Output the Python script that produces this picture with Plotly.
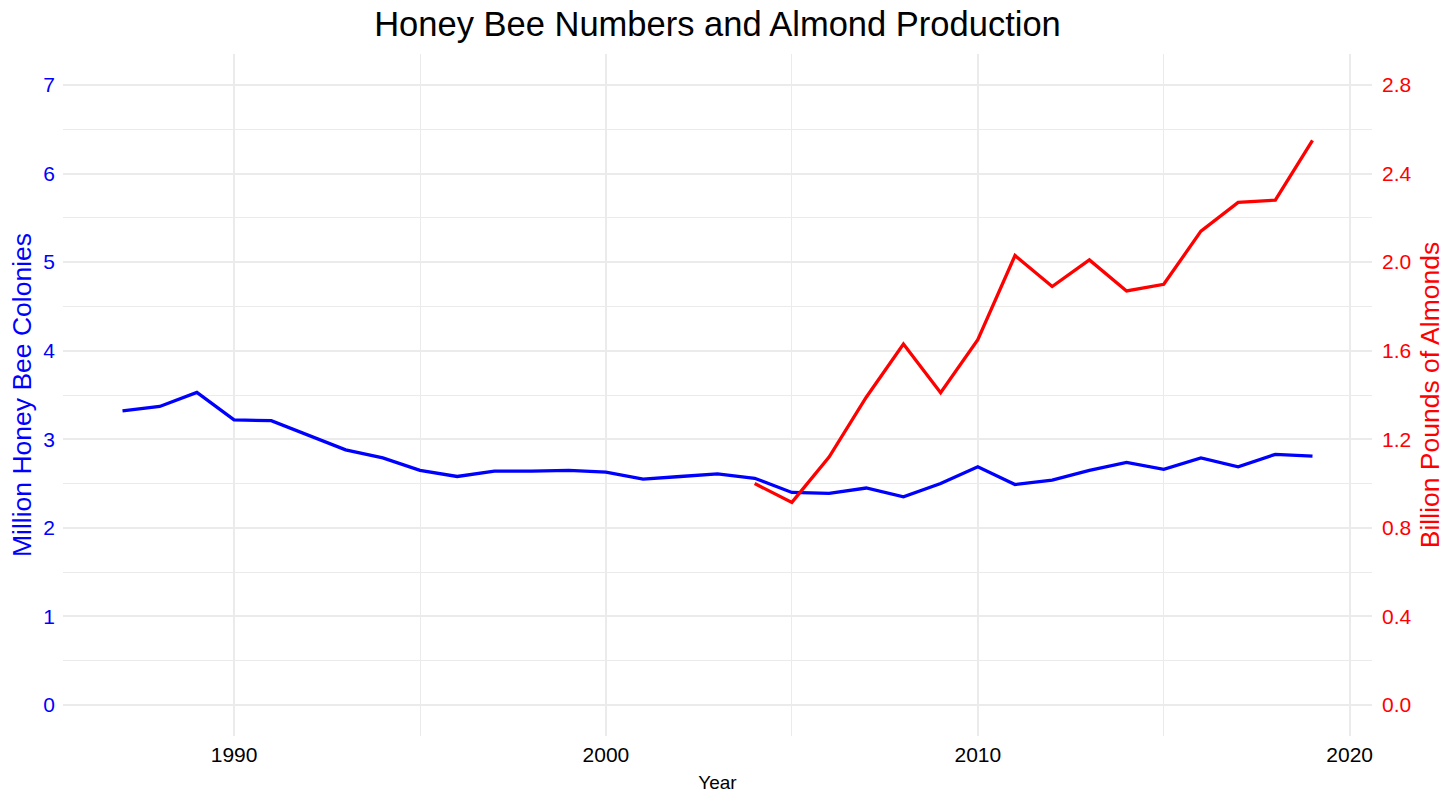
import plotly.graph_objects as go

years_bees = list(range(1987, 2020))
bee_colonies = [3.32, 3.37, 3.53, 3.22, 3.21, 3.05, 2.88, 2.79, 2.65, 2.58, 2.64,
                2.64, 2.65, 2.63, 2.55, 2.58, 2.61, 2.56, 2.40, 2.39, 2.45, 2.35,
                2.50, 2.69, 2.49, 2.54, 2.65, 2.74, 2.66, 2.79, 2.69, 2.83, 2.81]

years_almonds = list(range(2004, 2020))
almond_production = [1.00, 0.915, 1.12, 1.39, 1.63, 1.41, 1.65, 2.03, 1.89, 2.01,
                     1.87, 1.90, 2.14, 2.27, 2.28, 2.55]

left_ticks = [0, 1, 2, 3, 4, 5, 6, 7]
right_ticks = [0.0, 0.4, 0.8, 1.2, 1.6, 2.0, 2.4, 2.8]
x_ticks = [1990, 2000, 2010, 2020]

FONT = "Liberation Sans, Arial, sans-serif"
GRID = "#EBEBEB"

W, H = 1456, 803

fig = go.Figure()
fig.add_trace(go.Scatter(x=years_bees, y=bee_colonies, mode="lines",
                         line=dict(color="#0000FF", width=3.3), yaxis="y",
                         showlegend=False))
fig.add_trace(go.Scatter(x=years_almonds, y=almond_production, mode="lines",
                         line=dict(color="#FF0000", width=3.3), yaxis="y2",
                         showlegend=False))

fig.update_layout(
    width=W, height=H,
    paper_bgcolor="white", plot_bgcolor="white",
    font=dict(family=FONT),
    margin=dict(l=63, r=84, t=54, b=67),
    title=dict(text="Honey Bee Numbers and Almond Production",
               x=0.5, xref="paper", xanchor="center",
               y=1 - 24 / H, yref="container", yanchor="middle",
               font=dict(size=34.5, color="black", family=FONT)),
    xaxis=dict(range=[1985.4, 2020.6], tickvals=x_ticks,
               ticktext=[str(v) for v in x_ticks],
               showgrid=True, gridcolor=GRID, gridwidth=1.6,
               minor=dict(showgrid=True, gridcolor=GRID, gridwidth=0.9,
                          tickvals=[1995, 2005, 2015]),
               zeroline=False, showline=False, ticks="",
               ticklabelstandoff=4,
               tickfont=dict(size=21, color="black"),
               title=dict(text="Year", font=dict(size=19, color="black"),
                          standoff=10)),
    yaxis=dict(range=[-0.35, 7.35], tickvals=left_ticks,
               showgrid=True, gridcolor=GRID, gridwidth=1.6,
               minor=dict(showgrid=True, gridcolor=GRID, gridwidth=0.9,
                          tickvals=[0.5, 1.5, 2.5, 3.5, 4.5, 5.5, 6.5]),
               zeroline=False, showline=False, ticks="",
               ticklabelstandoff=7,
               tickfont=dict(size=21, color="#0000FF"),
               title=dict(text="Million Honey Bee Colonies",
                          font=dict(size=26.5, color="#0000FF"), standoff=4)),
    yaxis2=dict(range=[-0.14, 2.94], tickvals=right_ticks,
                ticktext=[f"{v:.1f}" for v in right_ticks],
                overlaying="y", side="right",
                showgrid=False, zeroline=False, showline=False, ticks="",
                ticklabelstandoff=9,
                tickfont=dict(size=21, color="#FF0000"),
                title=dict(text="Billion Pounds of Almonds",
                           font=dict(size=26.5, color="#FF0000"), standoff=9)),
)

fig.write_html("out.html",
               config={"displayModeBar": False},
               post_script="document.body.style.margin='0';"
                           "document.body.style.overflow='hidden';")
